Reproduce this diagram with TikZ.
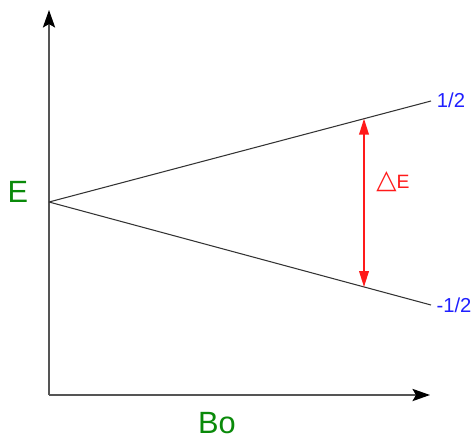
\documentclass[tikz,border=0pt]{standalone}
\usepackage{fontspec}
\setmainfont{Liberation Sans}
\newfontfamily\symfont{DejaVu Sans}
\usetikzlibrary{arrows.meta,positioning,calc}
\definecolor{lblgreen}{HTML}{0A8A0A}
\definecolor{lblblue}{HTML}{2020FF}
\definecolor{gapred}{HTML}{FF1A1A}
\definecolor{axgray}{HTML}{555555}
\definecolor{lvlgray}{HTML}{333333}

\begin{document}
\begin{tikzpicture}[x=0.02cm,y=-0.02cm,
  axis/.style={-{Stealth[length=10pt,width=7pt,inset=2pt,color=black]},thick,color=axgray},
  lvl/.style={semithick,color=lvlgray},
  gap/.style={{Triangle[length=9pt,width=5.5pt]}-{Triangle[length=9pt,width=5.5pt]},thick,color=gapred},
  bigtxt/.style={font=\fontsize{17.5}{20}\selectfont,color=lblgreen},
  spin/.style={font=\fontsize{11.5}{13}\selectfont,color=lblblue},
]
  \useasboundingbox (0,0) rectangle (472,439);

  % Axes
  \coordinate (orig) at (49,395);
  \coordinate (ytop) at (49,10);
  \coordinate (xend) at (430,395);
  \draw[axis] (orig) -- (ytop);
  \draw[axis] (orig) -- (xend);
  \node[bigtxt] (elbl) at (18,192) {E};
  \node[bigtxt] (bolbl) at (217,423) {Bo};

  % Split levels
  \coordinate (zero) at (49,202);
  \coordinate (upend) at (431,101);
  \coordinate (lowend) at (431,305);
  \draw[lvl] (zero) -- (upend);
  \draw[lvl] (zero) -- (lowend);
  \node[spin] (uplbl) at (451,100) {1/2};
  \node[spin] (lowlbl) at (454,305) {-1/2};

  % Energy gap
  \coordinate (gtop) at ($(zero)!0.8246!(upend)$);
  \coordinate (gbot) at ($(zero)!0.8246!(lowend)$);
  \draw[gap] (gbot) -- (gtop);
  \node[font=\fontsize{11}{13}\selectfont,color=gapred] (gaplbl) at (393,182)
    {{\symfont\fontsize{15}{15}\selectfont △}E};
\end{tikzpicture}
\end{document}
